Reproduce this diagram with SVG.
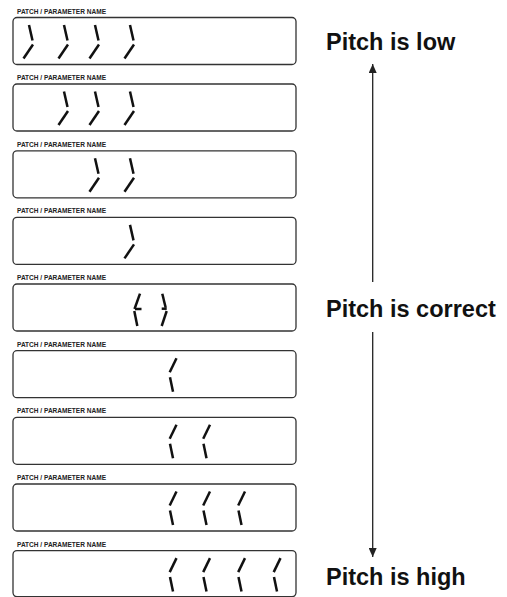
<svg xmlns="http://www.w3.org/2000/svg" xmlns:xlink="http://www.w3.org/1999/xlink" width="507" height="597" viewBox="0 0 507 597">
<style>
.box{fill:#fff;stroke:#333;stroke-width:1.3}
.lbl{font-family:"Liberation Sans",Arial,sans-serif;font-weight:bold;font-size:7.6px;fill:#222}
.seg{stroke:#111;stroke-width:2.5;stroke-linecap:butt;fill:none}
.big{font-family:"Liberation Sans",Arial,sans-serif;font-weight:bold;font-size:23.5px;fill:#111}
.conn{stroke:#222;stroke-width:1.3;fill:none}
</style>
<defs>
<g id="rp" class="seg"><line x1="0" y1="7.5" x2="3.5" y2="23"/><line x1="4" y1="27" x2="-5.5" y2="41"/></g>
<g id="lp" class="seg"><line x1="-3.8" y1="21.5" x2="3" y2="7.5"/><line x1="-3.5" y1="26.5" x2="-0.5" y2="41"/></g>
<marker id="ah" viewBox="0 0 9 8" refX="9" refY="4" markerWidth="9" markerHeight="8" markerUnits="userSpaceOnUse" orient="auto"><path d="M0,0 L9,4 L0,8 Z" fill="#222"/></marker>
</defs>
<rect width="507" height="597" fill="#fff"/>

<g id="panel1">
<text class="lbl" x="17" y="13.5" textLength="89" lengthAdjust="spacingAndGlyphs">PATCH / PARAMETER NAME</text>
<rect class="box" x="13" y="17.5" width="283" height="47" rx="4"/>
<use href="#rp" x="29" y="17.5"/><use href="#rp" x="64" y="17.5"/><use href="#rp" x="95" y="17.5"/><use href="#rp" x="130" y="17.5"/>
</g>
<g id="panel2">
<text class="lbl" x="17" y="80" textLength="89" lengthAdjust="spacingAndGlyphs">PATCH / PARAMETER NAME</text>
<rect class="box" x="13" y="84" width="283" height="47" rx="4"/>
<use href="#rp" x="64" y="84"/><use href="#rp" x="95" y="84"/><use href="#rp" x="130" y="84"/>
</g>
<g id="panel3">
<text class="lbl" x="17" y="146.8" textLength="89" lengthAdjust="spacingAndGlyphs">PATCH / PARAMETER NAME</text>
<rect class="box" x="13" y="150.8" width="283" height="47" rx="4"/>
<use href="#rp" x="95" y="150.8"/><use href="#rp" x="130" y="150.8"/>
</g>
<g id="panel4">
<text class="lbl" x="17" y="213.4" textLength="89" lengthAdjust="spacingAndGlyphs">PATCH / PARAMETER NAME</text>
<rect class="box" x="13" y="217.4" width="283" height="47" rx="4"/>
<use href="#rp" x="130" y="217.4"/>
</g>
<g id="panel5">
<text class="lbl" x="17" y="280" textLength="89" lengthAdjust="spacingAndGlyphs">PATCH / PARAMETER NAME</text>
<rect class="box" x="13" y="284" width="283" height="47" rx="4"/>
<g class="seg">
<line x1="134.5" y1="309" x2="140" y2="293.7"/><line x1="135" y1="309" x2="141.5" y2="309"/><line x1="134.3" y1="311" x2="137.3" y2="326"/>
<line x1="162.3" y1="293.7" x2="165.7" y2="307.7"/><line x1="161.7" y1="308.7" x2="166.7" y2="308.7"/><line x1="166.7" y1="311" x2="161.7" y2="326"/>
</g>
</g>
<g id="panel6">
<text class="lbl" x="17" y="346.7" textLength="89" lengthAdjust="spacingAndGlyphs">PATCH / PARAMETER NAME</text>
<rect class="box" x="13" y="350.7" width="283" height="47" rx="4"/>
<use href="#lp" x="173.5" y="350.7"/>
</g>
<g id="panel7">
<text class="lbl" x="17" y="413.3" textLength="89" lengthAdjust="spacingAndGlyphs">PATCH / PARAMETER NAME</text>
<rect class="box" x="13" y="417.3" width="283" height="47" rx="4"/>
<use href="#lp" x="173.5" y="417.3"/><use href="#lp" x="207" y="417.3"/>
</g>
<g id="panel8">
<text class="lbl" x="17" y="480" textLength="89" lengthAdjust="spacingAndGlyphs">PATCH / PARAMETER NAME</text>
<rect class="box" x="13" y="484" width="283" height="47" rx="4"/>
<use href="#lp" x="173.5" y="484"/><use href="#lp" x="207" y="484"/><use href="#lp" x="242" y="484"/>
</g>
<g id="panel9">
<text class="lbl" x="17" y="546.6" textLength="89" lengthAdjust="spacingAndGlyphs">PATCH / PARAMETER NAME</text>
<rect class="box" x="13" y="550.6" width="283" height="46" rx="4"/>
<use href="#lp" x="173.5" y="550.6"/><use href="#lp" x="207" y="550.6"/><use href="#lp" x="242" y="550.6"/><use href="#lp" x="277.5" y="550.6"/>
</g>

<g id="label-low"><text class="big" x="326" y="50">Pitch is low</text></g>
<g id="label-correct"><text class="big" x="326" y="317">Pitch is correct</text></g>
<g id="label-high"><text class="big" x="326" y="585">Pitch is high</text></g>

<g id="connectors">
<line class="conn" x1="372.7" y1="282" x2="372.7" y2="64" marker-end="url(#ah)"/>
<line class="conn" x1="372.7" y1="332" x2="372.7" y2="557" marker-end="url(#ah)"/>
</g>
</svg>
